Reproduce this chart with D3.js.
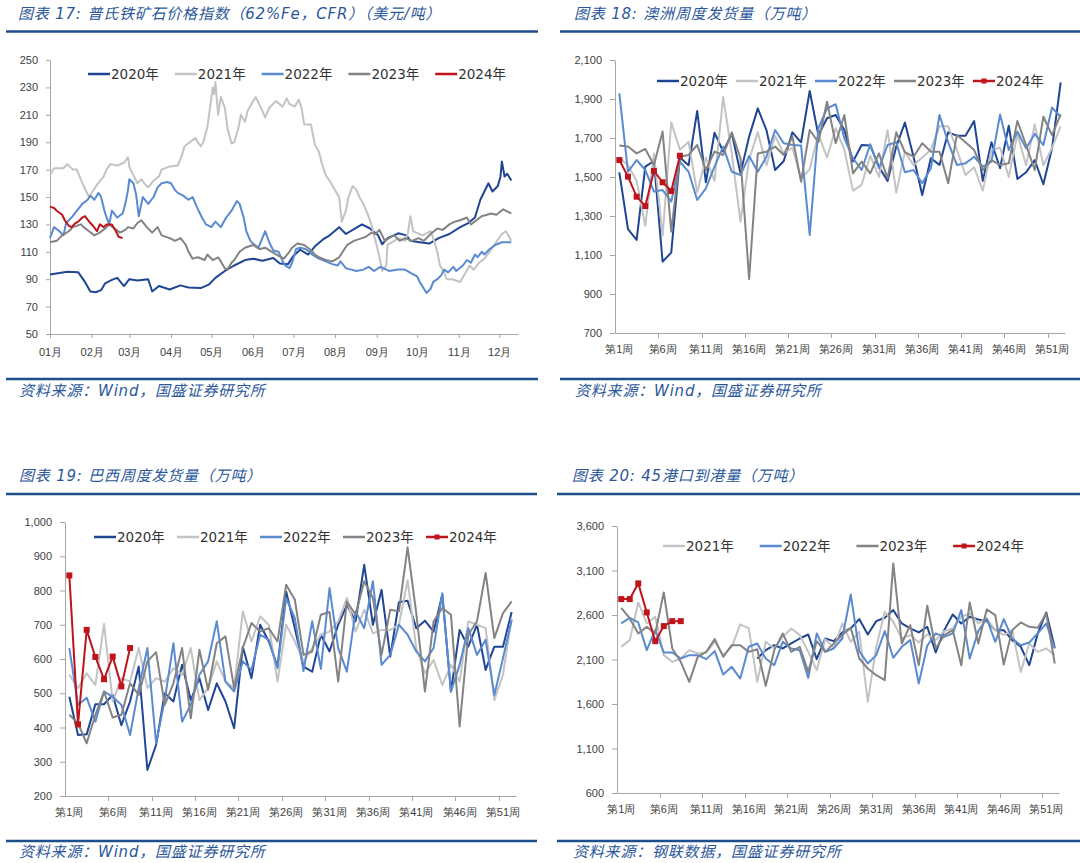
<!DOCTYPE html>
<html>
<head>
<meta charset="utf-8">
<title></title>
<script src="https://d3js.org/d3.v7.min.js"></script>
<style>
body { margin: 0; background: #fff; }
svg { display: block; font-family: "DejaVu Sans", "Noto Sans CJK SC", sans-serif; }
.tick text { fill: #404040; font-size: 11px; }
.domain, .tick line { stroke: #a6a6a6; }
.caption { font-style: italic; fill: #2b579a; font-size: 15px; letter-spacing: 0.8px; }
.legend text { font-size: 13.5px; fill: #333; }
</style>
</head>
<body>
<div id="chart-container"></div>
<script>
const W = 1080, H = 863;

const years = ['2020年', '2021年', '2022年', '2023年', '2024年'];
const colors = ['#1f4593', '#c3c3c3', '#5a8ad0', '#838383', '#c0141c'];

// ---- 图表17: daily price index, [MM-DD, value]
const monthTicks = ['01-01','02-01','03-01','04-01','05-01','06-01','07-01','08-01','09-01','10-01','11-01','12-01'];
const priceTicks = [50, 70, 90, 110, 130, 150, 170, 190, 210, 230, 250];

const price2020 = [["01-01",93.5],["01-08",94.5],["01-14",95.5],["01-22",95],["01-27",88],["01-31",81],["02-04",80.5],["02-08",82],["02-11",87],["02-16",89.5],["02-20",91],["02-25",85],["03-01",90],["03-07",89],["03-15",90],["03-18",81],["03-23",85],["03-31",82.5],["04-08",85.5],["04-14",84],["04-23",83.5],["04-29",86],["05-04",91],["05-11",96],["05-18",100],["05-26",104],["06-01",105],["06-08",103.5],["06-16",105.5],["06-21",101.5],["06-27",101],["07-01",107],["07-06",111.5],["07-12",108],["07-17",114],["07-23",119],["07-28",122],["08-04",128],["08-09",123],["08-15",126.5],["08-21",130],["08-27",127],["09-02",122],["09-05",115.5],["09-09",120],["09-17",123.5],["09-23",122],["09-26",118],["10-03",117],["10-10",116],["10-17",120],["10-25",123],["11-02",128],["11-08",131],["11-13",135],["11-17",148],["11-20",154],["11-23",160],["11-26",154],["11-30",158],["12-02",165],["12-03",176],["12-05",165],["12-07",167],["12-10",162]];

const price2021 = [["01-01",166],["01-04",171],["01-11",171],["01-14",174],["01-18",170],["01-21",170],["01-23",165],["01-26",158],["01-30",150],["02-05",159],["02-10",165],["02-12",170],["02-15",174],["02-20",173],["02-25",175],["02-28",179],["03-01",172],["03-04",166],["03-07",160],["03-10",163],["03-12",160],["03-15",157],["03-19",162],["03-23",165],["03-25",170],["03-30",172],["04-06",173],["04-09",180],["04-11",187],["04-15",190],["04-19",193],["04-23",187],["04-25",190],["04-28",201],["04-30",215],["05-02",230],["05-03",225],["05-04",234],["05-06",210],["05-08",223],["05-11",215],["05-13",200],["05-16",189],["05-18",190],["05-21",200],["05-23",210],["05-26",205],["05-28",213],["06-01",220],["06-03",223],["06-07",215],["06-10",208],["06-13",215],["06-18",220],["06-23",216],["06-26",222],["06-28",218],["07-02",216],["07-05",221],["07-07",215],["07-09",203],["07-14",203],["07-17",188],["07-20",183],["07-22",175],["07-25",166],["07-29",160],["08-01",155],["08-04",150],["08-06",132],["08-09",140],["08-11",150],["08-14",158],["08-17",155],["08-19",150],["08-22",145],["08-25",138],["08-28",130],["08-31",118],["09-03",106],["09-05",96],["09-08",100],["09-09",115],["09-14",118],["09-17",120],["09-22",118],["09-24",123],["09-26",136],["09-28",125],["10-05",122],["10-11",125],["10-13",120],["10-16",110],["10-18",100],["10-21",95],["10-23",90],["10-27",90],["11-02",88],["11-05",93],["11-09",100],["11-12",97],["11-16",102],["11-20",105],["11-24",110],["11-28",116],["12-03",123],["12-06",125],["12-10",118]];

const price2022 = [["01-01",120],["01-04",128],["01-08",125],["01-11",122],["01-13",131],["01-17",135],["01-21",140],["01-25",145],["01-29",148],["01-31",151],["02-03",148],["02-06",153],["02-08",150],["02-11",138],["02-14",130],["02-16",140],["02-20",135],["02-24",138],["02-26",145],["02-28",155],["03-01",163],["03-04",160],["03-06",152],["03-08",136],["03-11",150],["03-15",145],["03-19",150],["03-22",157],["03-25",160],["03-29",161],["04-01",160],["04-04",155],["04-06",153],["04-10",151],["04-14",148],["04-17",150],["04-21",141],["04-24",135],["04-27",130],["05-01",128],["05-04",132],["05-08",128],["05-12",135],["05-16",140],["05-20",147],["05-22",145],["05-25",135],["05-27",125],["05-30",118],["06-01",116],["06-05",113],["06-10",125],["06-13",117],["06-16",111],["06-20",110],["06-23",103],["06-25",100],["06-28",98],["06-30",102],["07-03",112],["07-06",113],["07-10",112],["07-13",110],["07-15",108],["07-20",105],["07-25",103],["07-30",101],["08-03",100],["08-05",103],["08-09",98],["08-13",97],["08-17",96],["08-22",97],["08-26",99],["08-30",96],["09-02",98],["09-04",99],["09-10",96],["09-17",97],["09-22",97],["09-27",94],["10-01",92],["10-03",88],["10-06",83],["10-08",80],["10-11",83],["10-13",88],["10-16",90],["10-19",93],["10-21",97],["10-24",95],["10-28",99],["10-30",96],["11-04",100],["11-07",104],["11-10",102],["11-13",108],["11-15",106],["11-18",110],["11-20",108],["11-24",112],["11-28",115],["12-03",117],["12-10",117]];

const price2023 = [["01-01",117],["01-06",118],["01-10",122],["01-15",125],["01-18",128],["01-24",130],["01-26",128],["01-30",125],["02-03",122],["02-07",124],["02-11",127],["02-14",130],["02-18",127],["02-22",124],["02-26",126],["02-28",128],["03-04",127],["03-07",131],["03-10",133],["03-14",128],["03-18",124],["03-22",128],["03-25",122],["03-31",120],["04-04",118],["04-08",120],["04-12",115],["04-14",110],["04-17",105],["04-21",106],["04-26",104],["04-28",108],["05-02",104],["05-06",106],["05-08",103],["05-11",98],["05-13",97],["05-16",102],["05-18",104],["05-22",110],["05-26",113],["06-01",115],["06-06",112],["06-10",113],["06-15",110],["06-20",107],["06-24",105],["06-28",110],["06-30",113],["07-04",116],["07-09",115],["07-13",112],["07-17",108],["07-20",106],["07-25",104],["07-30",103],["08-04",106],["08-08",112],["08-10",115],["08-15",118],["08-21",120],["08-24",121],["08-28",124],["08-31",123],["09-03",126],["09-07",118],["09-10",120],["09-14",122],["09-18",118],["09-22",120],["09-27",118],["10-02",120],["10-06",118],["10-11",123],["10-16",127],["10-20",126],["10-25",130],["10-29",132],["11-02",133],["11-07",135],["11-10",130],["11-14",133],["11-18",136],["11-22",137],["11-25",138],["11-29",137],["12-04",141],["12-08",139],["12-10",138]];

const price2024 = [["01-01",143],["01-04",142],["01-06",140],["01-10",137],["01-12",133],["01-15",129],["01-17",128],["01-20",131],["01-22",132],["01-25",135],["01-27",136],["01-31",131],["02-02",129],["02-05",125],["02-07",130],["02-10",128],["02-12",130],["02-16",130],["02-19",125],["02-21",121],["02-24",120]];

// ---- weekly charts
const weeks = d3.range(1, 53);
const labelWeeks = [1, 6, 11, 16, 21, 26, 31, 36, 41, 46, 51];
const tickWeeks = [6, 11, 16, 21, 26, 31, 36, 41, 46, 51];

// 图表18: 澳洲周度发货量
const ausTicks = [700, 900, 1100, 1300, 1500, 1700, 1900, 2100];
const aus2020 = [1524,1233,1177,1553,1582,1066,1112,1600,1560,1839,1473,1727,1630,1724,1519,1707,1852,1741,1536,1582,1729,1678,1941,1715,1801,1818,1741,1579,1664,1661,1553,1480,1656,1779,1604,1408,1596,1562,1729,1712,1712,1787,1480,1678,1545,1763,1490,1524,1587,1463,1647,1985];
const aus2021 = [1600,1560,1480,1250,1620,1200,1780,1640,1680,1420,1600,1480,1910,1620,1270,1590,1730,1560,1710,1620,1650,1490,1540,1720,1600,1750,1640,1430,1460,1610,1500,1740,1420,1630,1560,1600,1640,1760,1760,1640,1510,1550,1430,1640,1650,1500,1720,1560,1770,1560,1650,1760];
const aus2022 = [1929,1527,1587,1536,1425,1433,1374,1579,1527,1382,1442,1553,1656,1527,1510,1608,1527,1604,1741,1673,1664,1661,1203,1750,1852,1873,1698,1596,1536,1668,1545,1664,1678,1524,1536,1468,1545,1818,1678,1562,1570,1604,1553,1579,1821,1638,1733,1647,1721,1664,1856,1809];
const aus2023 = [1661,1656,1621,1644,1562,1733,1220,1604,1613,1664,1536,1630,1613,1729,1596,977,1621,1630,1656,1613,1707,1476,1741,1678,1886,1673,1818,1519,1579,1519,1621,1493,1729,1627,1604,1673,1630,1630,1468,1715,1678,1638,1536,1587,1562,1570,1787,1664,1536,1809,1715,1821];
const aus2024 = [1587,1502,1399,1351,1531,1473,1428,1609];

// 图表19: 巴西周度发货量
const braTicks = [200, 300, 400, 500, 600, 700, 800, 900, 1000];
const bra2020 = [490,378,380,468,468,495,407,476,578,276,349,500,476,583,480,544,451,529,476,398,636,544,700,651,578,797,690,578,563,671,622,700,758,710,875,700,802,607,766,770,690,712,680,788,505,685,636,700,568,636,636,737];
const bra2021 = [554,515,558,524,702,476,544,534,632,515,544,534,573,554,632,480,515,593,534,515,739,651,724,700,534,700,651,593,632,671,680,710,778,680,744,675,685,685,700,830,632,558,597,524,583,534,710,700,690,480,554,719];
const bra2022 = [632,466,487,417,505,490,466,378,515,632,354,480,646,417,466,554,593,710,534,505,593,568,671,656,573,778,719,565,710,571,807,632,563,739,690,827,583,612,700,671,622,593,632,792,505,583,690,612,656,495,602,714];
const bra2023 = [437,412,354,437,505,429,437,529,495,593,620,466,529,632,427,627,510,646,666,515,632,705,680,690,651,817,773,612,622,729,737,534,768,729,827,778,612,744,739,926,734,505,710,749,729,403,671,710,851,661,734,768];
const bra2024 = [844,409,685,606,541,607,520,632];

// 图表20: 45港口到港量
const portTicks = [600, 1100, 1600, 2100, 2600, 3100, 3600];
const port2020 = [null,null,null,null,null,null,null,null,null,null,null,null,null,null,null,null,2111,2205,2261,2224,2280,2336,2381,2104,2336,2306,2404,2449,2554,2381,2531,2569,2655,2505,2449,2404,2467,2179,2430,2606,2505,2580,2550,2531,2430,2430,2318,2243,2036,2393,2629,2231];
const port2021 = [2243,2318,2741,2505,2580,2149,2074,2111,2205,2168,2179,2299,2149,2243,2494,2449,1849,2299,2224,2355,2449,2374,2186,1980,2329,2231,2505,2299,2411,1624,2243,2636,2524,2336,2374,2291,2381,2318,2419,2449,2580,2618,2505,2561,2430,2374,2430,1961,2280,2186,2224,2149];
const port2022 = [2505,2569,2516,2205,2430,2179,2179,2111,2149,2149,2104,2194,1931,2018,1886,2243,2280,2111,2036,2299,2224,2205,1894,2393,2186,2224,2336,2831,2194,2055,2149,2419,2119,2243,2318,1830,2254,2393,2355,2393,2655,2111,2419,2561,2299,2554,2336,2261,2291,2393,2505,2224];
const port2023 = [2681,2561,2393,2467,2393,2854,2224,2074,1849,2130,2186,2329,2130,2261,2261,2186,2216,1804,2205,2393,2186,2243,1961,2306,2186,2280,2374,2456,2111,1999,1924,1868,3180,2280,2486,2036,2704,2224,2374,2430,2036,2741,2280,2663,2599,2044,2430,2516,2467,2456,2618,2055];
const port2024 = [2779,2779,2955,2629,2306,2475,2531,2531];

const svg = d3.select('#chart-container').append('svg')
    .attr('width', W)
    .attr('height', H);

function drawFrame(f) {
    const g = svg.append('g');
    g.append('text').attr('class', 'caption').attr('x', f.tx).attr('y', f.ty).text(f.title);
    g.append('line').attr('x1', f.rx0).attr('x2', f.rx1).attr('y1', f.ry0).attr('y2', f.ry0)
        .attr('stroke', '#1f4e8c').attr('stroke-width', 2.5);
    g.append('line').attr('x1', f.rx0).attr('x2', f.rx1).attr('y1', f.ry1).attr('y2', f.ry1)
        .attr('stroke', '#1f4e8c').attr('stroke-width', 2.5);
    g.append('text').attr('class', 'caption').attr('x', f.fx).attr('y', f.fy).text(f.source);
}

function drawLegend(g, items, x0, step, yc) {
    const lg = g.append('g').attr('class', 'legend');
    items.forEach((s, i) => {
        const lx = x0 + i * step;
        lg.append('line').attr('x1', lx).attr('x2', lx + 22).attr('y1', yc).attr('y2', yc)
            .attr('stroke', s.color).attr('stroke-width', 2.5);
        if (s.marker) {
            lg.append('rect').attr('x', lx + 8.5).attr('y', yc - 2.5).attr('width', 5).attr('height', 5)
                .attr('fill', s.color);
        }
        lg.append('text').attr('x', lx + 23).attr('y', yc).attr('dy', '0.36em').text(s.name);
    });
}

function drawPrice() {
    const parseDay = d3.timeParse('%m-%d');
    const x = d3.scaleTime().domain([parseDay('01-01'), parseDay('12-15')]).range([50, 518]);
    const y = d3.scaleLinear().domain([50, 250]).range([334, 60]);
    const g = svg.append('g');

    g.append('g').attr('transform', 'translate(50,0)')
        .call(d3.axisLeft(y).tickValues(priceTicks).tickSize(4).tickPadding(8).tickSizeOuter(0));
    g.append('g').attr('transform', 'translate(0,334)')
        .call(d3.axisBottom(x).tickValues(monthTicks.map(parseDay)).tickFormat(d3.timeFormat('%m月'))
            .tickSize(4).tickPadding(10).tickSizeOuter(0));

    const series = [price2020, price2021, price2022, price2023, price2024];
    const line = d3.line().x(d => x(parseDay(d[0]))).y(d => y(d[1]));
    series.forEach((s, i) => {
        g.append('path').datum(s).attr('fill', 'none').attr('stroke', colors[i])
            .attr('stroke-width', 2).attr('stroke-linejoin', 'round').attr('d', line);
    });

    drawLegend(g, years.map((n, i) => ({ name: n, color: colors[i] })), 88, 86.8, 74);
}

function drawWeekly(p) {
    const x = d3.scaleBand().domain(weeks).range([p.left, p.right]);
    const y = d3.scaleLinear().domain(d3.extent(p.yTicks)).range([p.bottom, p.top]);
    const g = svg.append('g');

    g.append('g').attr('transform', `translate(${p.left},0)`)
        .call(d3.axisLeft(y).tickValues(p.yTicks).tickFormat(d3.format(','))
            .tickSize(5).tickPadding(8).tickSizeOuter(0));
    g.append('g').attr('transform', `translate(0,${p.bottom})`)
        .call(d3.axisBottom(x).tickValues(labelWeeks).tickFormat(w => `第${w}周`)
            .tickSize(0).tickPadding(12).tickSizeOuter(0));
    g.selectAll('.wk-tick').data(tickWeeks).join('line')
        .attr('class', 'wk-tick')
        .attr('x1', d => Math.round(x(d)) + 0.5).attr('x2', d => Math.round(x(d)) + 0.5)
        .attr('y1', p.bottom).attr('y2', p.bottom + 5)
        .attr('stroke', '#a6a6a6');

    const cx = i => x(i + 1) + x.bandwidth() / 2;
    const line = d3.line().defined(d => d != null).x((d, i) => cx(i)).y(d => y(d));

    p.series.forEach(s => {
        g.append('path').datum(s.values).attr('fill', 'none').attr('stroke', s.color)
            .attr('stroke-width', 2).attr('stroke-linejoin', 'round').attr('d', line);
        if (s.marker) {
            g.selectAll(null).data(s.values).join('rect')
                .attr('x', (d, i) => cx(i) - 3).attr('y', d => y(d) - 3)
                .attr('width', 6).attr('height', 6).attr('fill', s.color);
        }
    });

    drawLegend(g, p.series.filter(s => s.name), p.legendX, p.legendStep, p.legendY);
}

drawFrame({ title: '图表 17:  普氏铁矿石价格指数（62%Fe，CFR）（美元/吨）', tx: 18, ty: 19,
    rx0: 6, rx1: 538, ry0: 31.5, ry1: 379, source: '资料来源：Wind，国盛证券研究所', fx: 19, fy: 396 });
drawFrame({ title: '图表 18:  澳洲周度发货量（万吨）', tx: 574, ty: 19,
    rx0: 560, rx1: 1080, ry0: 31.5, ry1: 379, source: '资料来源：Wind，国盛证券研究所', fx: 575, fy: 396 });
drawFrame({ title: '图表 19:  巴西周度发货量（万吨）', tx: 19, ty: 481,
    rx0: 6, rx1: 537, ry0: 494, ry1: 841, source: '资料来源：Wind，国盛证券研究所', fx: 19, fy: 857 });
drawFrame({ title: '图表 20:  45港口到港量（万吨）', tx: 572, ty: 481,
    rx0: 557, rx1: 1080, ry0: 494, ry1: 841, source: '资料来源：钢联数据，国盛证券研究所', fx: 573, fy: 857 });

drawPrice();

drawWeekly({
    left: 615, right: 1065, top: 60, bottom: 333, yTicks: ausTicks,
    legendX: 657, legendStep: 79, legendY: 81,
    series: [
        { name: years[0], color: colors[0], values: aus2020 },
        { name: years[1], color: colors[1], values: aus2021 },
        { name: years[2], color: colors[2], values: aus2022 },
        { name: years[3], color: colors[3], values: aus2023 },
        { name: years[4], color: colors[4], values: aus2024, marker: true }
    ]
});

drawWeekly({
    left: 65, right: 516, top: 522, bottom: 796, yTicks: braTicks,
    legendX: 94, legendStep: 83, legendY: 537,
    series: [
        { name: years[0], color: colors[0], values: bra2020 },
        { name: years[1], color: colors[1], values: bra2021 },
        { name: years[2], color: colors[2], values: bra2022 },
        { name: years[3], color: colors[3], values: bra2023 },
        { name: years[4], color: colors[4], values: bra2024, marker: true }
    ]
});

drawWeekly({
    left: 617, right: 1059, top: 526, bottom: 793, yTicks: portTicks,
    legendX: 663, legendStep: 96.7, legendY: 546,
    series: [
        { name: null, color: colors[0], values: port2020 },
        { name: years[1], color: colors[1], values: port2021 },
        { name: years[2], color: colors[2], values: port2022 },
        { name: years[3], color: colors[3], values: port2023 },
        { name: years[4], color: colors[4], values: port2024, marker: true }
    ]
});
</script>
</body>
</html>
